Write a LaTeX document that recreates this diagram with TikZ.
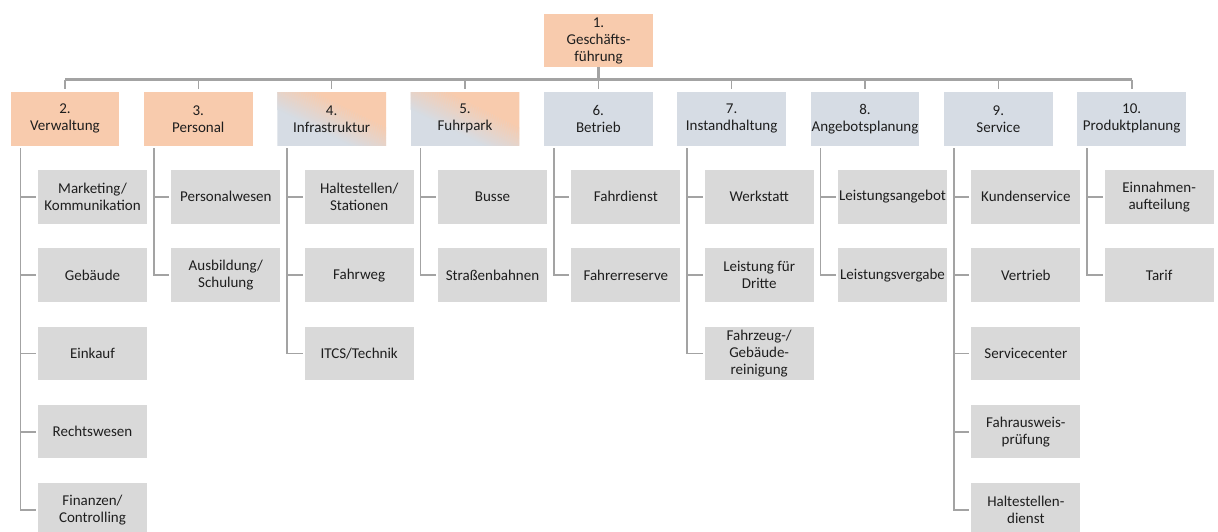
\documentclass[tikz,border=0pt]{standalone}
\usepackage{fontspec}
\setmainfont{Carlito}
\usetikzlibrary{calc}
\definecolor{ora}{HTML}{F8CBAD}
\definecolor{blu}{HTML}{D6DCE4}
\definecolor{sub}{HTML}{D9D9D9}
\definecolor{lin}{HTML}{A3A3A3}
\definecolor{txt}{HTML}{1E1E1E}
\tikzset{
  box/.style={minimum width=108.7pt, minimum height=53.5pt, inner sep=0pt, align=center,
              text=txt, font=\fontsize{15}{17}\selectfont},
  orabox/.style={box, fill=ora},
  blubox/.style={box, fill=blu},
  % diagonal blend: blue-grey in the lower left, orange in the upper right;
  % the soft seam runs from corner to corner and is built from thin stripes
  % parallel to the diagonal (normal n = (0.4415, 0.8973))
  mixbox/.style={box, path picture={
      \coordinate (mc) at (path picture bounding box.center);
      \fill[blu] (path picture bounding box.south west) rectangle (path picture bounding box.north east);
      \foreach \i in {0,...,32}{
        \pgfmathsetmacro\a{\i-16}
        \pgfmathsetmacro\b{\i<32 ? \i-14.9 : 90}
        \pgfmathsetmacro\pct{min(100,100*(\i+0.5)/32)}
        \fill[ora!\pct!blu]
          ($(mc)+({(\a*0.4415-80*0.8973)*1pt},{(\a*0.8973+80*0.4415)*1pt})$) --
          ($(mc)+({(\a*0.4415+80*0.8973)*1pt},{(\a*0.8973-80*0.4415)*1pt})$) --
          ($(mc)+({(\b*0.4415+80*0.8973)*1pt},{(\b*0.8973-80*0.4415)*1pt})$) --
          ($(mc)+({(\b*0.4415-80*0.8973)*1pt},{(\b*0.8973+80*0.4415)*1pt})$) -- cycle;
      }}},
  subbox/.style={box, fill=sub},
  bus/.style={draw=lin, line width=2.2pt},
  branch/.style={draw=lin, line width=1.6pt},
}
\begin{document}
\begin{tikzpicture}[x=1pt,y=-1pt]
\path[use as bounding box, fill=white] (0,0) rectangle (1218,531);

% top level
\node[orabox] (p1) at (598.5,40.5) {1.\\Geschäfts-\\führung};

% departments
\node[orabox] (p2)  at (65,118.8)     {2.\\Verwaltung};
\node[orabox] (p3)  at (198.33,118.8) {3.\\Personal};
\node[mixbox] (p4)  at (331.67,118.8) {4.\\Infrastruktur};
\node[mixbox] (p5)  at (465,118.8)    {5.\\Fuhrpark};
\node[blubox] (p6)  at (598.33,118.8) {6.\\Betrieb};
\node[blubox] (p7)  at (731.67,118.8) {7.\\Instandhaltung};
\node[blubox] (p8)  at (865,118.8)    {8.\\Angebotsplanung};
\node[blubox] (p9)  at (998.33,118.8) {9.\\Service};
\node[blubox] (p10) at (1131.67,118.8){10.\\Produktplanung};

% sub units
\node[subbox] (c2a) at (92.5,196.8)  {Marketing/\\Kommunikation};
\node[subbox] (c2b) at (92.5,275.1)  {Gebäude};
\node[subbox] (c2c) at (92.5,353.4)  {Einkauf};
\node[subbox] (c2d) at (92.5,431.7)  {Rechtswesen};
\node[subbox] (c2e) at (92.5,510.0)  {Finanzen/\\Controlling};

\node[subbox] (c3a) at (225.83,196.8) {Personalwesen};
\node[subbox] (c3b) at (225.83,275.1) {Ausbildung/\\Schulung};

\node[subbox] (c4a) at (359.17,196.8) {Haltestellen/\\Stationen};
\node[subbox] (c4b) at (359.17,275.1) {Fahrweg};
\node[subbox] (c4c) at (359.17,353.4) {ITCS/Technik};

\node[subbox] (c5a) at (492.5,196.8) {Busse};
\node[subbox] (c5b) at (492.5,275.1) {Straßenbahnen};

\node[subbox] (c6a) at (625.83,196.8) {Fahrdienst};
\node[subbox] (c6b) at (625.83,275.1) {Fahrerreserve};

\node[subbox] (c7a) at (759.17,196.8) {Werkstatt};
\node[subbox] (c7b) at (759.17,275.1) {Leistung für\\Dritte};
\node[subbox] (c7c) at (759.17,353.4) {Fahrzeug-/\\Gebäude-\\reinigung};

\node[subbox] (c8a) at (892.5,196.8) {Leistungsangebot};
\node[subbox] (c8b) at (892.5,275.1) {Leistungsvergabe};

\node[subbox] (c9a) at (1025.83,196.8) {Kundenservice};
\node[subbox] (c9b) at (1025.83,275.1) {Vertrieb};
\node[subbox] (c9c) at (1025.83,353.4) {Servicecenter};
\node[subbox] (c9d) at (1025.83,431.7) {Fahrausweis-\\prüfung};
\node[subbox] (c9e) at (1025.83,510.0) {Haltestellen-\\dienst};

\node[subbox] (c10a) at (1159.17,196.8) {Einnahmen-\\aufteilung};
\node[subbox] (c10b) at (1159.17,275.1) {Tarif};

% bus between the managing board and the departments
\coordinate (busy) at (0,79.5);
\draw[bus] (p1.south) -- (p1.south |- busy);
\draw[bus, shorten >=2.5pt] (p2.north |- busy) -- (p2.north);
\draw[bus] (p2.north |- busy) -- (p10.north |- busy);
\draw[bus, shorten >=2.5pt] (p10.north |- busy) -- (p10.north);
\foreach \p in {p3,p4,p5,p6,p7,p8,p9}
  \draw[branch, shorten >=2.5pt] (\p.north |- busy) -- (\p.north);

% spines from each department down to its sub units
\foreach \p/\last/\kids in {p2/c2e/{c2a,c2b,c2c,c2d}, p3/c3b/{c3a}, p4/c4c/{c4a,c4b},
                           p5/c5b/{c5a}, p6/c6b/{c6a}, p7/c7c/{c7a,c7b},
                           p8/c8b/{c8a}, p9/c9e/{c9a,c9b,c9c,c9d}, p10/c10b/{c10a}} {
  \coordinate (s-\p) at ([xshift=10pt,yshift=-2.5pt]\p.south west);
  \draw[branch, shorten >=2pt] (s-\p) |- (\last.west);
  \foreach \k in \kids
    \draw[branch, shorten >=2pt] (s-\p |- \k.west) -- (\k.west);
}
\end{tikzpicture}
\end{document}
